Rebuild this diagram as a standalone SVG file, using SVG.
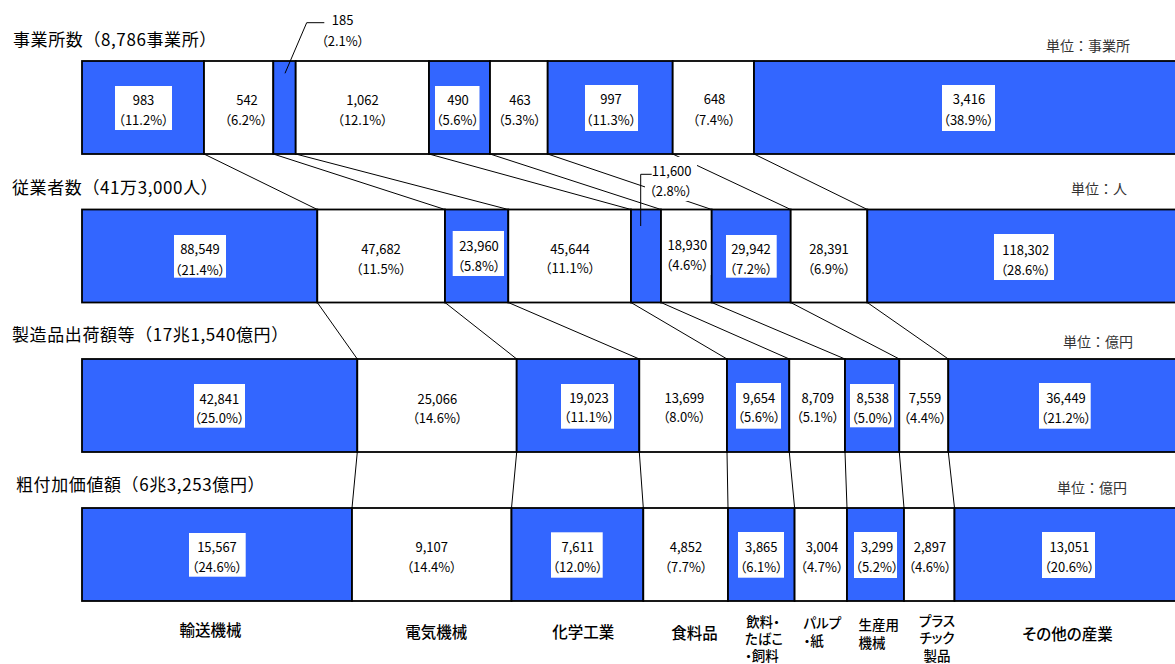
<svg xmlns="http://www.w3.org/2000/svg" width="1175" height="664" viewBox="0 0 1175 664">
<style>
text{font-family:"Noto Sans CJK JP","Liberation Sans",sans-serif;fill:#000;dominant-baseline:central}
.b{fill:#3366FF;stroke:#000;stroke-width:1.8}
.w{fill:#fff;stroke:#000;stroke-width:1.8}
.lb{fill:#fff;stroke:none}
.v{font-size:13px;text-anchor:middle;font-feature-settings:"palt"}
.t{font-size:17px;letter-spacing:0.6px}
.u{font-size:14px;fill:#333;text-anchor:end}
.c{font-size:15.5px;text-anchor:middle;font-feature-settings:"palt";font-weight:500}
.cs{font-size:13.5px;font-feature-settings:"palt";font-weight:500}
.conn line,.conn polyline{stroke:#000;stroke-width:1;fill:none}
</style>
<rect width="1175" height="664" fill="#fff"/>

<g id="titles">
<text class="t" x="13" y="38">事業所数（8,786事業所）</text>
<text class="t" x="12" y="186.5">従業者数（41万3,000人）</text>
<text class="t" x="12" y="333">製造品出荷額等（17兆1,540億円）</text>
<text class="t" x="16" y="483">粗付加価値額（6兆3,253億円）</text>
<text class="u" x="1130" y="45">単位：事業所</text>
<text class="u" x="1127" y="187.5">単位：人</text>
<text class="u" x="1133" y="340.5">単位：億円</text>
<text class="u" x="1127" y="487">単位：億円</text>
</g>

<g class="conn" id="connectors">
<line x1="204" y1="154" x2="317.3" y2="209.5"/>
<line x1="273.3" y1="154" x2="445" y2="209.5"/>
<line x1="295.7" y1="154" x2="508.3" y2="209.5"/>
<line x1="429" y1="154" x2="631" y2="209.5"/>
<line x1="490" y1="154" x2="661" y2="209.5"/>
<line x1="547.7" y1="154" x2="711.7" y2="209.5"/>
<line x1="672.7" y1="154" x2="790.7" y2="209.5"/>
<line x1="754" y1="154" x2="867.3" y2="209.5"/>
<line x1="317.3" y1="302.5" x2="357.3" y2="359"/>
<line x1="445" y1="302.5" x2="516.7" y2="359"/>
<line x1="508.3" y1="302.5" x2="639.3" y2="359"/>
<line x1="631" y1="302.5" x2="727" y2="359"/>
<line x1="661" y1="302.5" x2="789.3" y2="359"/>
<line x1="711.7" y1="302.5" x2="845" y2="359"/>
<line x1="790.7" y1="302.5" x2="899.3" y2="359"/>
<line x1="867.3" y1="302.5" x2="948.3" y2="359"/>
<line x1="357.3" y1="452" x2="352" y2="508"/>
<line x1="516.7" y1="452" x2="511.5" y2="508"/>
<line x1="639.3" y1="452" x2="643.3" y2="508"/>
<line x1="727" y1="452" x2="728" y2="508"/>
<line x1="789.3" y1="452" x2="794.6" y2="508"/>
<line x1="845" y1="452" x2="847" y2="508"/>
<line x1="899.3" y1="452" x2="904" y2="508"/>
<line x1="948.3" y1="452" x2="954.5" y2="508"/>
</g>

<!-- Row 1: 事業所数 -->
<g id="r1-transport"><rect class="b" x="82" y="61" width="122" height="93"/><rect class="lb" x="115" y="86" width="57" height="44"/><text class="v" x="143.5" y="99">983</text><text class="v" x="143.5" y="119">（11.2%）</text></g>
<g id="r1-electric"><rect class="w" x="204" y="61" width="69.3" height="93"/><text class="v" x="247" y="99">542</text><text class="v" x="246" y="119">（6.2%）</text></g>
<g id="r1-chemical"><rect class="b" x="273.3" y="61" width="22.4" height="93"/></g>
<g id="r1-food"><rect class="w" x="295.7" y="61" width="133.3" height="93"/><text class="v" x="362.5" y="99">1,062</text><text class="v" x="362.5" y="119">（12.1%）</text></g>
<g id="r1-beverage"><rect class="b" x="429" y="61" width="61" height="93"/><rect class="lb" x="435" y="86" width="44.5" height="44"/><text class="v" x="458" y="99">490</text><text class="v" x="457.5" y="119">（5.6%）</text></g>
<g id="r1-pulp"><rect class="w" x="490" y="61" width="57.7" height="93"/><text class="v" x="520" y="99">463</text><text class="v" x="519.5" y="119">（5.3%）</text></g>
<g id="r1-production"><rect class="b" x="547.7" y="61" width="125" height="93"/><rect class="lb" x="585" y="85" width="53" height="46"/><text class="v" x="611" y="98.5">997</text><text class="v" x="611" y="119">（11.3%）</text></g>
<g id="r1-plastic"><rect class="w" x="672.7" y="61" width="81.3" height="93"/><text class="v" x="714.5" y="98.5">648</text><text class="v" x="714" y="119">（7.4%）</text></g>
<g id="r1-other"><rect class="b" x="754" y="61" width="440" height="93"/><rect class="lb" x="942" y="85" width="53" height="46"/><text class="v" x="969" y="98.5">3,416</text><text class="v" x="968.5" y="119">（38.9%）</text></g>
<g id="r1-note185">
<polyline points="324.3,22.7 306.7,22.7 285,73.3" style="stroke:#000;stroke-width:1;fill:none"/>
<text class="v" x="342.7" y="19.3">185</text><text class="v" x="342.7" y="40">（2.1%）</text>
</g>

<!-- Row 2: 従業者数 -->
<g id="r2-transport"><rect class="b" x="82" y="209.5" width="235.3" height="93"/><rect class="lb" x="174" y="235" width="52" height="42.7"/><text class="v" x="200" y="248.3">88,549</text><text class="v" x="200" y="269">（21.4%）</text></g>
<g id="r2-electric"><rect class="w" x="317.3" y="209.5" width="127.7" height="93"/><text class="v" x="381" y="248">47,682</text><text class="v" x="381" y="268">（11.5%）</text></g>
<g id="r2-chemical"><rect class="b" x="445" y="209.5" width="63.3" height="93"/><rect class="lb" x="452.7" y="231" width="51.3" height="45"/><text class="v" x="479" y="245.3">23,960</text><text class="v" x="479" y="265.7">（5.8%）</text></g>
<g id="r2-food"><rect class="w" x="508.3" y="209.5" width="122.7" height="93"/><text class="v" x="570" y="248.3">45,644</text><text class="v" x="570" y="267.3">（11.1%）</text></g>
<g id="r2-beverage"><rect class="b" x="631" y="209.5" width="30" height="93"/></g>
<g id="r2-pulp"><rect class="w" x="661" y="209.5" width="50.7" height="93"/><rect class="lb" x="662.5" y="230" width="50" height="45"/><text class="v" x="687.3" y="244.3">18,930</text><text class="v" x="687.3" y="264.3">（4.6%）</text></g>
<g id="r2-production"><rect class="b" x="711.7" y="209.5" width="79" height="93"/><rect class="lb" x="726" y="235" width="50.7" height="42.7"/><text class="v" x="751" y="248.3">29,942</text><text class="v" x="751" y="268.7">（7.2%）</text></g>
<g id="r2-plastic"><rect class="w" x="790.7" y="209.5" width="76.6" height="93"/><text class="v" x="829" y="248">28,391</text><text class="v" x="829" y="268">（6.9%）</text></g>
<g id="r2-other"><rect class="b" x="867.3" y="209.5" width="330" height="93"/><rect class="lb" x="994" y="234" width="60" height="46"/><text class="v" x="1025.7" y="249">118,302</text><text class="v" x="1025.7" y="269.3">（28.6%）</text></g>
<g id="r2-note11600">
<rect class="lb" x="645" y="157" width="52" height="44"/>
<polyline points="651.7,174.3 640.7,174.3 640.7,226" style="stroke:#000;stroke-width:1;fill:none"/>
<text class="v" x="671.7" y="170">11,600</text><text class="v" x="670.7" y="190">（2.8%）</text>
</g>

<!-- Row 3: 製造品出荷額等 -->
<g id="r3-transport"><rect class="b" x="82" y="359" width="275.3" height="93"/><rect class="lb" x="194" y="384" width="51" height="43.7"/><text class="v" x="219.3" y="398.3">42,841</text><text class="v" x="219.3" y="417.3">（25.0%）</text></g>
<g id="r3-electric"><rect class="w" x="357.3" y="359" width="159.4" height="93"/><text class="v" x="437.3" y="398">25,066</text><text class="v" x="437.3" y="417">（14.6%）</text></g>
<g id="r3-chemical"><rect class="b" x="516.7" y="359" width="122.6" height="93"/><rect class="lb" x="561" y="384" width="53" height="44.7"/><text class="v" x="589" y="397.7">19,023</text><text class="v" x="589" y="416.7">（11.1%）</text></g>
<g id="r3-food"><rect class="w" x="639.3" y="359" width="87.7" height="93"/><text class="v" x="684.3" y="397">13,699</text><text class="v" x="684.3" y="416">（8.0%）</text></g>
<g id="r3-beverage"><rect class="b" x="727" y="359" width="62.3" height="93"/><rect class="lb" x="736" y="383" width="45" height="45.7"/><text class="v" x="759" y="397">9,654</text><text class="v" x="759" y="416">（5.6%）</text></g>
<g id="r3-pulp"><rect class="w" x="789.3" y="359" width="55.7" height="93"/><text class="v" x="817.7" y="397">8,709</text><text class="v" x="817.7" y="416">（5.1%）</text></g>
<g id="r3-production"><rect class="b" x="845" y="359" width="54.3" height="93"/><rect class="lb" x="850" y="384" width="44" height="43.3"/><text class="v" x="872.7" y="397.7">8,538</text><text class="v" x="872.7" y="417">（5.0%）</text></g>
<g id="r3-plastic"><rect class="w" x="899.3" y="359" width="49" height="93"/><text class="v" x="925" y="397.7">7,559</text><text class="v" x="925" y="417.3">（4.4%）</text></g>
<g id="r3-other"><rect class="b" x="948.3" y="359" width="250" height="93"/><rect class="lb" x="1039" y="383" width="51.7" height="45.7"/><text class="v" x="1066" y="397">36,449</text><text class="v" x="1066" y="417">（21.2%）</text></g>

<!-- Row 4: 粗付加価値額 -->
<g id="r4-transport"><rect class="b" x="82" y="508" width="270" height="93"/><rect class="lb" x="189" y="533" width="56.7" height="43.7"/><text class="v" x="217" y="546.7">15,567</text><text class="v" x="217" y="566.7">（24.6%）</text></g>
<g id="r4-electric"><rect class="w" x="352" y="508" width="159.5" height="93"/><text class="v" x="431.7" y="546">9,107</text><text class="v" x="431.7" y="566">（14.4%）</text></g>
<g id="r4-chemical"><rect class="b" x="511.5" y="508" width="131.8" height="93"/><rect class="lb" x="551" y="532.3" width="51.7" height="45.4"/><text class="v" x="577.7" y="546.7">7,611</text><text class="v" x="577.7" y="566.7">（12.0%）</text></g>
<g id="r4-food"><rect class="w" x="643.3" y="508" width="84.7" height="93"/><text class="v" x="686" y="546.7">4,852</text><text class="v" x="686" y="566.7">（7.7%）</text></g>
<g id="r4-beverage"><rect class="b" x="728" y="508" width="66.6" height="93"/><rect class="lb" x="738" y="532" width="46" height="45.7"/><text class="v" x="761.3" y="546.7">3,865</text><text class="v" x="761.3" y="566.7">（6.1%）</text></g>
<g id="r4-pulp"><rect class="w" x="794.6" y="508" width="52.4" height="93"/><text class="v" x="821.9" y="546.7">3,004</text><text class="v" x="821.9" y="566.7">（4.7%）</text></g>
<g id="r4-production"><rect class="b" x="847" y="508" width="57" height="93"/><rect class="lb" x="854" y="532" width="43" height="46"/><text class="v" x="876.9" y="546.7">3,299</text><text class="v" x="876.9" y="566.7">（5.2%）</text></g>
<g id="r4-plastic"><rect class="w" x="904" y="508" width="50.5" height="93"/><text class="v" x="930" y="546.7">2,897</text><text class="v" x="930" y="566.7">（4.6%）</text></g>
<g id="r4-other"><rect class="b" x="954.5" y="508" width="250" height="93"/><rect class="lb" x="1042" y="532" width="53" height="46"/><text class="v" x="1069.4" y="546.7">13,051</text><text class="v" x="1069.4" y="566.7">（20.6%）</text></g>

<!-- Category labels -->
<g id="categories">
<text class="c" x="210.5" y="629">輸送機械</text>
<text class="c" x="436.3" y="631">電気機械</text>
<text class="c" x="583.3" y="631">化学工業</text>
<text class="c" x="694.6" y="631.7">食料品</text>
<text class="cs" text-anchor="middle"><tspan x="763" y="620.5">飲料・</tspan><tspan x="764" y="637.5">たばこ</tspan><tspan x="762" y="654.5">・飼料</tspan></text>
<text class="cs"><tspan x="803.5" y="622">パルプ</tspan><tspan x="803.5" y="640">・紙</tspan></text>
<text class="cs"><tspan x="858.5" y="624">生産用</tspan><tspan x="858.5" y="642">機械</tspan></text>
<text class="cs" text-anchor="middle"><tspan x="937" y="620">プラス</tspan><tspan x="937" y="637">チック</tspan><tspan x="937" y="654.5">製品</tspan></text>
<text class="c" x="1067.5" y="632.7">その他の産業</text>
</g>
</svg>
